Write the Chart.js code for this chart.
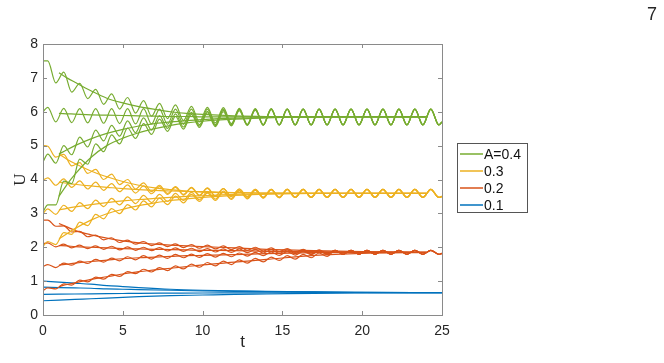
<!DOCTYPE html>
<html>
<head>
<meta charset="utf-8">
<script src="https://cdn.jsdelivr.net/npm/chart.js@4.4.1/dist/chart.umd.min.js"></script>
<style>
  html, body { margin: 0; padding: 0; background: #fff; }
  #wrap { width: 664px; height: 363px; }
</style>
</head>
<body>
<div id="wrap"><canvas id="uChart" width="664" height="363"></canvas></div>
<script>
// time grids (peaks near k+0.3, troughs near k+0.8)
const tWave = [0, 0.3, 0.8, 1.3, 1.8, 2.3, 2.8, 3.3, 3.8, 4.3, 4.8, 5.3, 5.8, 6.3, 6.8, 7.3, 7.8, 8.3, 8.8,
  9.3, 9.8, 10.3, 10.8, 11.3, 11.8, 12.3, 12.8, 13.3, 13.8, 14.3, 14.8, 15.3, 15.8, 16.3, 16.8, 17.3, 17.8,
  18.3, 18.8, 19.3, 19.8, 20.3, 20.8, 21.3, 21.8, 22.3, 22.8, 23.3, 23.8, 24.3, 24.8, 25];
const tMean = [1, 1.5, 2, 3, 4, 5, 6, 7, 8, 9, 10, 12, 14, 17, 20, 24];
const tBlue = [0, 1, 2, 3, 4, 5, 6, 8, 10, 12, 14, 17, 20, 25];

const xTicks = [0, 5, 10, 15, 20, 25];
const yTicks = [0, 1, 2, 3, 4, 5, 6, 7, 8];

const legendLabels = ['A=0.4', '0.3', '0.2', '0.1'];
const colors = ['#77AC30', '#EDB120', '#D95319', '#0072BD'];

// A = 0.4 (green)
const g1 = [7.50, 7.50, 6.85, 7.17, 6.58, 6.84, 6.39, 6.66, 6.22, 6.53, 6.08, 6.42, 5.96, 6.33, 5.87, 6.25, 5.80,
  6.20, 5.74, 6.16, 5.70, 6.13, 5.67, 6.12, 5.65, 6.10, 5.63, 6.09, 5.62, 6.09, 5.61];
const g2 = [6.00, 6.13, 5.70, 6.10, 5.68, 6.09, 5.67, 6.09, 5.66, 6.09, 5.65, 6.09, 5.64, 6.09, 5.64, 6.08, 5.63,
  6.08, 5.63, 6.08, 5.62, 6.08, 5.62, 6.08, 5.62, 6.08, 5.61, 6.08, 5.61, 6.08, 5.61];
const g3 = [4.52, 4.75, 4.48, 5.00, 4.73, 5.25, 4.96, 5.46, 5.14, 5.60, 5.28, 5.73, 5.38, 5.82, 5.46, 5.89, 5.51,
  5.94, 5.55, 5.98, 5.58, 6.01, 5.59, 6.04, 5.60, 6.06, 5.61, 6.07, 5.61, 6.08, 5.61];
const g4 = [3.05, 3.25, 3.25, 3.95, 3.88, 4.60, 4.45, 5.05, 4.82, 5.32, 5.05, 5.52, 5.21, 5.65, 5.33, 5.78, 5.42,
  5.86, 5.49, 5.92, 5.54, 5.97, 5.56, 6.00, 5.58, 6.03, 5.60, 6.05, 5.60, 6.07, 5.61];
const greenTail = [6.08, 5.61, 6.08, 5.61, 6.08, 5.61, 6.08, 5.61, 6.08, 5.61, 6.08, 5.61, 6.08, 5.61,
  6.08, 5.61, 6.08, 5.61, 6.08, 5.61, 5.70];
const gm1 = [7.15, 7.00, 6.87, 6.62, 6.40, 6.26, 6.15, 6.07, 6.00, 5.95, 5.92, 5.88, 5.86, 5.85, 5.85, 5.85];
const gm2 = [5.95, 5.94, 5.93, 5.91, 5.90, 5.89, 5.88, 5.87, 5.86, 5.86, 5.85, 5.85, 5.85, 5.85, 5.85, 5.85];
const gm3 = [4.75, 4.88, 5.00, 5.20, 5.36, 5.48, 5.58, 5.65, 5.70, 5.74, 5.77, 5.81, 5.83, 5.85, 5.85, 5.85];
const gm4 = [3.50, 3.85, 4.15, 4.65, 5.00, 5.22, 5.38, 5.50, 5.60, 5.67, 5.72, 5.78, 5.82, 5.84, 5.85, 5.85];

// A = 0.3 (yellow)
const y1 = [5.00, 4.98, 4.66, 4.74, 4.40, 4.50, 4.18, 4.30, 4.00, 4.16, 3.85, 4.00, 3.72, 3.90, 3.64, 3.83, 3.59,
  3.79, 3.56, 3.77, 3.54, 3.75, 3.51, 3.73, 3.50, 3.72, 3.49, 3.71, 3.48, 3.71, 3.47];
const y2 = [3.98, 4.05, 3.83, 4.02, 3.77, 3.96, 3.72, 3.92, 3.68, 3.88, 3.64, 3.84, 3.60, 3.81, 3.58, 3.79, 3.56,
  3.77, 3.54, 3.75, 3.52, 3.74, 3.51, 3.73, 3.50, 3.72, 3.49, 3.71, 3.48, 3.71, 3.47];
const y3 = [3.00, 3.13, 2.97, 3.24, 3.06, 3.32, 3.14, 3.39, 3.20, 3.44, 3.25, 3.49, 3.29, 3.53, 3.32, 3.56, 3.35,
  3.59, 3.38, 3.62, 3.40, 3.64, 3.42, 3.66, 3.44, 3.68, 3.45, 3.69, 3.46, 3.70, 3.47];
const y4 = [2.02, 2.17, 2.08, 2.43, 2.38, 2.74, 2.64, 2.97, 2.84, 3.14, 2.99, 3.26, 3.10, 3.37, 3.19, 3.45, 3.26,
  3.51, 3.31, 3.56, 3.35, 3.60, 3.38, 3.63, 3.41, 3.66, 3.43, 3.68, 3.45, 3.70, 3.46];
const yellowTail = [3.71, 3.47, 3.71, 3.47, 3.71, 3.47, 3.71, 3.47, 3.71, 3.47, 3.71, 3.47, 3.71, 3.47,
  3.71, 3.47, 3.71, 3.47, 3.71, 3.47, 3.50];
const ym1 = [4.75, 4.60, 4.47, 4.25, 4.08, 3.94, 3.83, 3.75, 3.70, 3.66, 3.64, 3.61, 3.60, 3.59, 3.59, 3.59];
const ym2 = [3.92, 3.89, 3.86, 3.81, 3.77, 3.73, 3.70, 3.68, 3.66, 3.65, 3.63, 3.61, 3.60, 3.59, 3.59, 3.59];
const ym3 = [3.10, 3.15, 3.19, 3.26, 3.32, 3.37, 3.41, 3.44, 3.47, 3.50, 3.52, 3.56, 3.58, 3.59, 3.59, 3.59];
const ym4 = [2.25, 2.40, 2.55, 2.80, 2.99, 3.12, 3.23, 3.31, 3.38, 3.43, 3.47, 3.53, 3.57, 3.59, 3.59, 3.59];

// A = 0.2 (red), converges later so the head is longer
const r1 = [2.80, 2.80, 2.62, 2.63, 2.45, 2.47, 2.31, 2.36, 2.22, 2.28, 2.14, 2.21, 2.09, 2.17, 2.05, 2.13, 2.02,
  2.10, 1.99, 2.08, 1.97, 2.06, 1.95, 2.04, 1.93, 2.02, 1.91, 2.00, 1.89, 1.98, 1.87, 1.96, 1.85, 1.94, 1.83, 1.92, 1.81];
const r2 = [2.10, 2.13, 2.01, 2.09, 1.98, 2.06, 1.96, 2.04, 1.94, 2.03, 1.92, 2.01, 1.91, 2.00, 1.90, 1.99, 1.89,
  1.98, 1.88, 1.97, 1.87, 1.96, 1.86, 1.95, 1.85, 1.95, 1.84, 1.94, 1.83, 1.93, 1.82, 1.92, 1.81, 1.92, 1.80, 1.91, 1.80];
const r3 = [1.43, 1.49, 1.40, 1.53, 1.47, 1.59, 1.52, 1.64, 1.56, 1.68, 1.60, 1.72, 1.63, 1.75, 1.65, 1.77, 1.67,
  1.79, 1.69, 1.80, 1.70, 1.81, 1.71, 1.82, 1.72, 1.83, 1.74, 1.85, 1.75, 1.86, 1.76, 1.87, 1.77, 1.88, 1.78, 1.89, 1.79];
const r4 = [0.72, 0.80, 0.77, 0.92, 0.88, 1.03, 0.98, 1.12, 1.06, 1.20, 1.14, 1.28, 1.22, 1.35, 1.27, 1.40, 1.31,
  1.45, 1.36, 1.50, 1.41, 1.55, 1.45, 1.59, 1.49, 1.63, 1.53, 1.67, 1.57, 1.71, 1.61, 1.75, 1.65, 1.79, 1.69, 1.83, 1.73];
const redTail = [1.91, 1.79, 1.91, 1.79, 1.91, 1.79, 1.91, 1.79, 1.91, 1.79, 1.91, 1.79, 1.91, 1.79, 1.82];
const rm1 = [2.70, 2.60, 2.50, 2.37, 2.27, 2.19, 2.13, 2.09, 2.06, 2.04, 2.02, 1.98, 1.94, 1.90, 1.87, 1.85];
const rm2 = [2.05, 2.04, 2.02, 2.00, 1.98, 1.96, 1.95, 1.94, 1.93, 1.92, 1.91, 1.90, 1.88, 1.87, 1.86, 1.85];
const rm3 = [1.47, 1.50, 1.53, 1.58, 1.62, 1.66, 1.69, 1.71, 1.73, 1.75, 1.76, 1.78, 1.81, 1.84, 1.85, 1.85];
const rm4 = [0.84, 0.90, 0.95, 1.05, 1.13, 1.21, 1.28, 1.33, 1.38, 1.43, 1.48, 1.56, 1.64, 1.76, 1.82, 1.85];

// A = 0.1 (blue), wiggle too small to see
const b1 = [1.00, 0.97, 0.94, 0.91, 0.87, 0.84, 0.81, 0.76, 0.73, 0.71, 0.70, 0.68, 0.67, 0.66];
const b2 = [0.82, 0.81, 0.80, 0.79, 0.77, 0.76, 0.75, 0.73, 0.71, 0.70, 0.69, 0.68, 0.67, 0.66];
const b3 = [0.61, 0.615, 0.62, 0.625, 0.63, 0.635, 0.64, 0.645, 0.65, 0.652, 0.655, 0.658, 0.66, 0.66];
const b4 = [0.42, 0.44, 0.46, 0.48, 0.50, 0.52, 0.54, 0.57, 0.59, 0.61, 0.62, 0.64, 0.65, 0.66];

function toPoints(ts, ys) {
  return ys.map((y, i) => ({ x: ts[i], y: y }));
}

function lineSet(ts, ys, color) {
  return {
    data: toPoints(ts, ys),
    borderColor: color,
    borderWidth: 1.2,
    pointRadius: 0,
    fill: false,
    cubicInterpolationMode: 'monotone'
  };
}

const datasets = [];
[g1, g2, g3, g4].forEach(h => datasets.push(lineSet(tWave, h.concat(greenTail), colors[0])));
[gm1, gm2, gm3, gm4].forEach(m => datasets.push(lineSet(tMean, m, colors[0])));
[y1, y2, y3, y4].forEach(h => datasets.push(lineSet(tWave, h.concat(yellowTail), colors[1])));
[ym1, ym2, ym3, ym4].forEach(m => datasets.push(lineSet(tMean, m, colors[1])));
[r1, r2, r3, r4].forEach(h => datasets.push(lineSet(tWave, h.concat(redTail), colors[2])));
[rm1, rm2, rm3, rm4].forEach(m => datasets.push(lineSet(tMean, m, colors[2])));
[b1, b2, b3, b4].forEach(b => datasets.push(lineSet(tBlue, b, colors[3])));

// box, inward ticks, axis labels and legend, drawn the matlab way
const matlabFrame = {
  id: 'matlabFrame',
  afterDraw(chart) {
    const ctx = chart.ctx;
    const a = chart.chartArea;
    const xs = chart.scales.x;
    const ys = chart.scales.y;
    ctx.save();
    ctx.strokeStyle = '#8a8a8a';
    ctx.lineWidth = 1;
    ctx.strokeRect(Math.round(a.left) + 0.5, Math.round(a.top) + 0.5,
      Math.round(a.right - a.left), Math.round(a.bottom - a.top));
    ctx.beginPath();
    xTicks.forEach(v => {
      const px = Math.round(xs.getPixelForValue(v)) + 0.5;
      ctx.moveTo(px, a.bottom); ctx.lineTo(px, a.bottom - 4);
      ctx.moveTo(px, a.top); ctx.lineTo(px, a.top + 4);
    });
    yTicks.forEach(v => {
      const py = Math.round(ys.getPixelForValue(v)) + 0.5;
      ctx.moveTo(a.left, py); ctx.lineTo(a.left + 4, py);
      ctx.moveTo(a.right, py); ctx.lineTo(a.right - 4, py);
    });
    ctx.stroke();

    ctx.fillStyle = '#262626';
    ctx.textAlign = 'center';
    ctx.textBaseline = 'alphabetic';
    ctx.font = '17px "Liberation Sans", Arial, sans-serif';
    ctx.fillText('t', (a.left + a.right) / 2, 347);
    ctx.font = '18px "Liberation Sans", Arial, sans-serif';
    ctx.fillText('7', 652, 20);
    ctx.save();
    ctx.translate(25, (a.top + a.bottom) / 2);
    ctx.rotate(-Math.PI / 2);
    ctx.font = '17px "Liberation Serif", "DejaVu Serif", serif';
    ctx.fillText('U', 0, 0);
    ctx.restore();

    // legend
    const lx = 457, ly = 143, lw = 70, lh = 69;
    ctx.fillStyle = '#fff';
    ctx.fillRect(lx, ly, lw, lh);
    ctx.strokeStyle = '#555';
    ctx.strokeRect(lx + 0.5, ly + 0.5, lw, lh);
    ctx.font = '14px "Liberation Sans", Arial, sans-serif';
    ctx.textAlign = 'left';
    ctx.textBaseline = 'middle';
    legendLabels.forEach((lab, i) => {
      const yy = ly + 11 + i * 17;
      ctx.strokeStyle = colors[i];
      ctx.lineWidth = 1.5;
      ctx.beginPath();
      ctx.moveTo(lx + 3, yy); ctx.lineTo(lx + 26, yy);
      ctx.stroke();
      ctx.fillStyle = '#111';
      ctx.fillText(lab, lx + 27, yy + 1);
    });
    ctx.restore();
  }
};

new Chart(document.getElementById('uChart'), {
  type: 'line',
  data: { datasets: datasets },
  options: {
    responsive: false,
    devicePixelRatio: 1,
    animation: false,
    layout: { padding: { top: 44, right: 222, left: 0, bottom: 0 } },
    plugins: { legend: { display: false }, tooltip: { enabled: false } },
    scales: {
      x: {
        type: 'linear', min: 0, max: 25,
        afterFit: s => { s.height = 48; },
        afterBuildTicks: s => { s.ticks = xTicks.map(v => ({ value: v })); },
        grid: { display: false, drawTicks: false },
        border: { display: false },
        ticks: { color: '#262626', padding: 8, maxRotation: 0,
          font: { family: '"Liberation Sans", Arial, sans-serif', size: 14 } }
      },
      y: {
        type: 'linear', min: 0, max: 8,
        afterFit: s => { s.width = 43; },
        afterBuildTicks: s => { s.ticks = yTicks.map(v => ({ value: v })); },
        grid: { display: false, drawTicks: false },
        border: { display: false },
        ticks: { color: '#262626', padding: 5,
          font: { family: '"Liberation Sans", Arial, sans-serif', size: 14 } }
      }
    }
  },
  plugins: [matlabFrame]
});
</script>
</body>
</html>
